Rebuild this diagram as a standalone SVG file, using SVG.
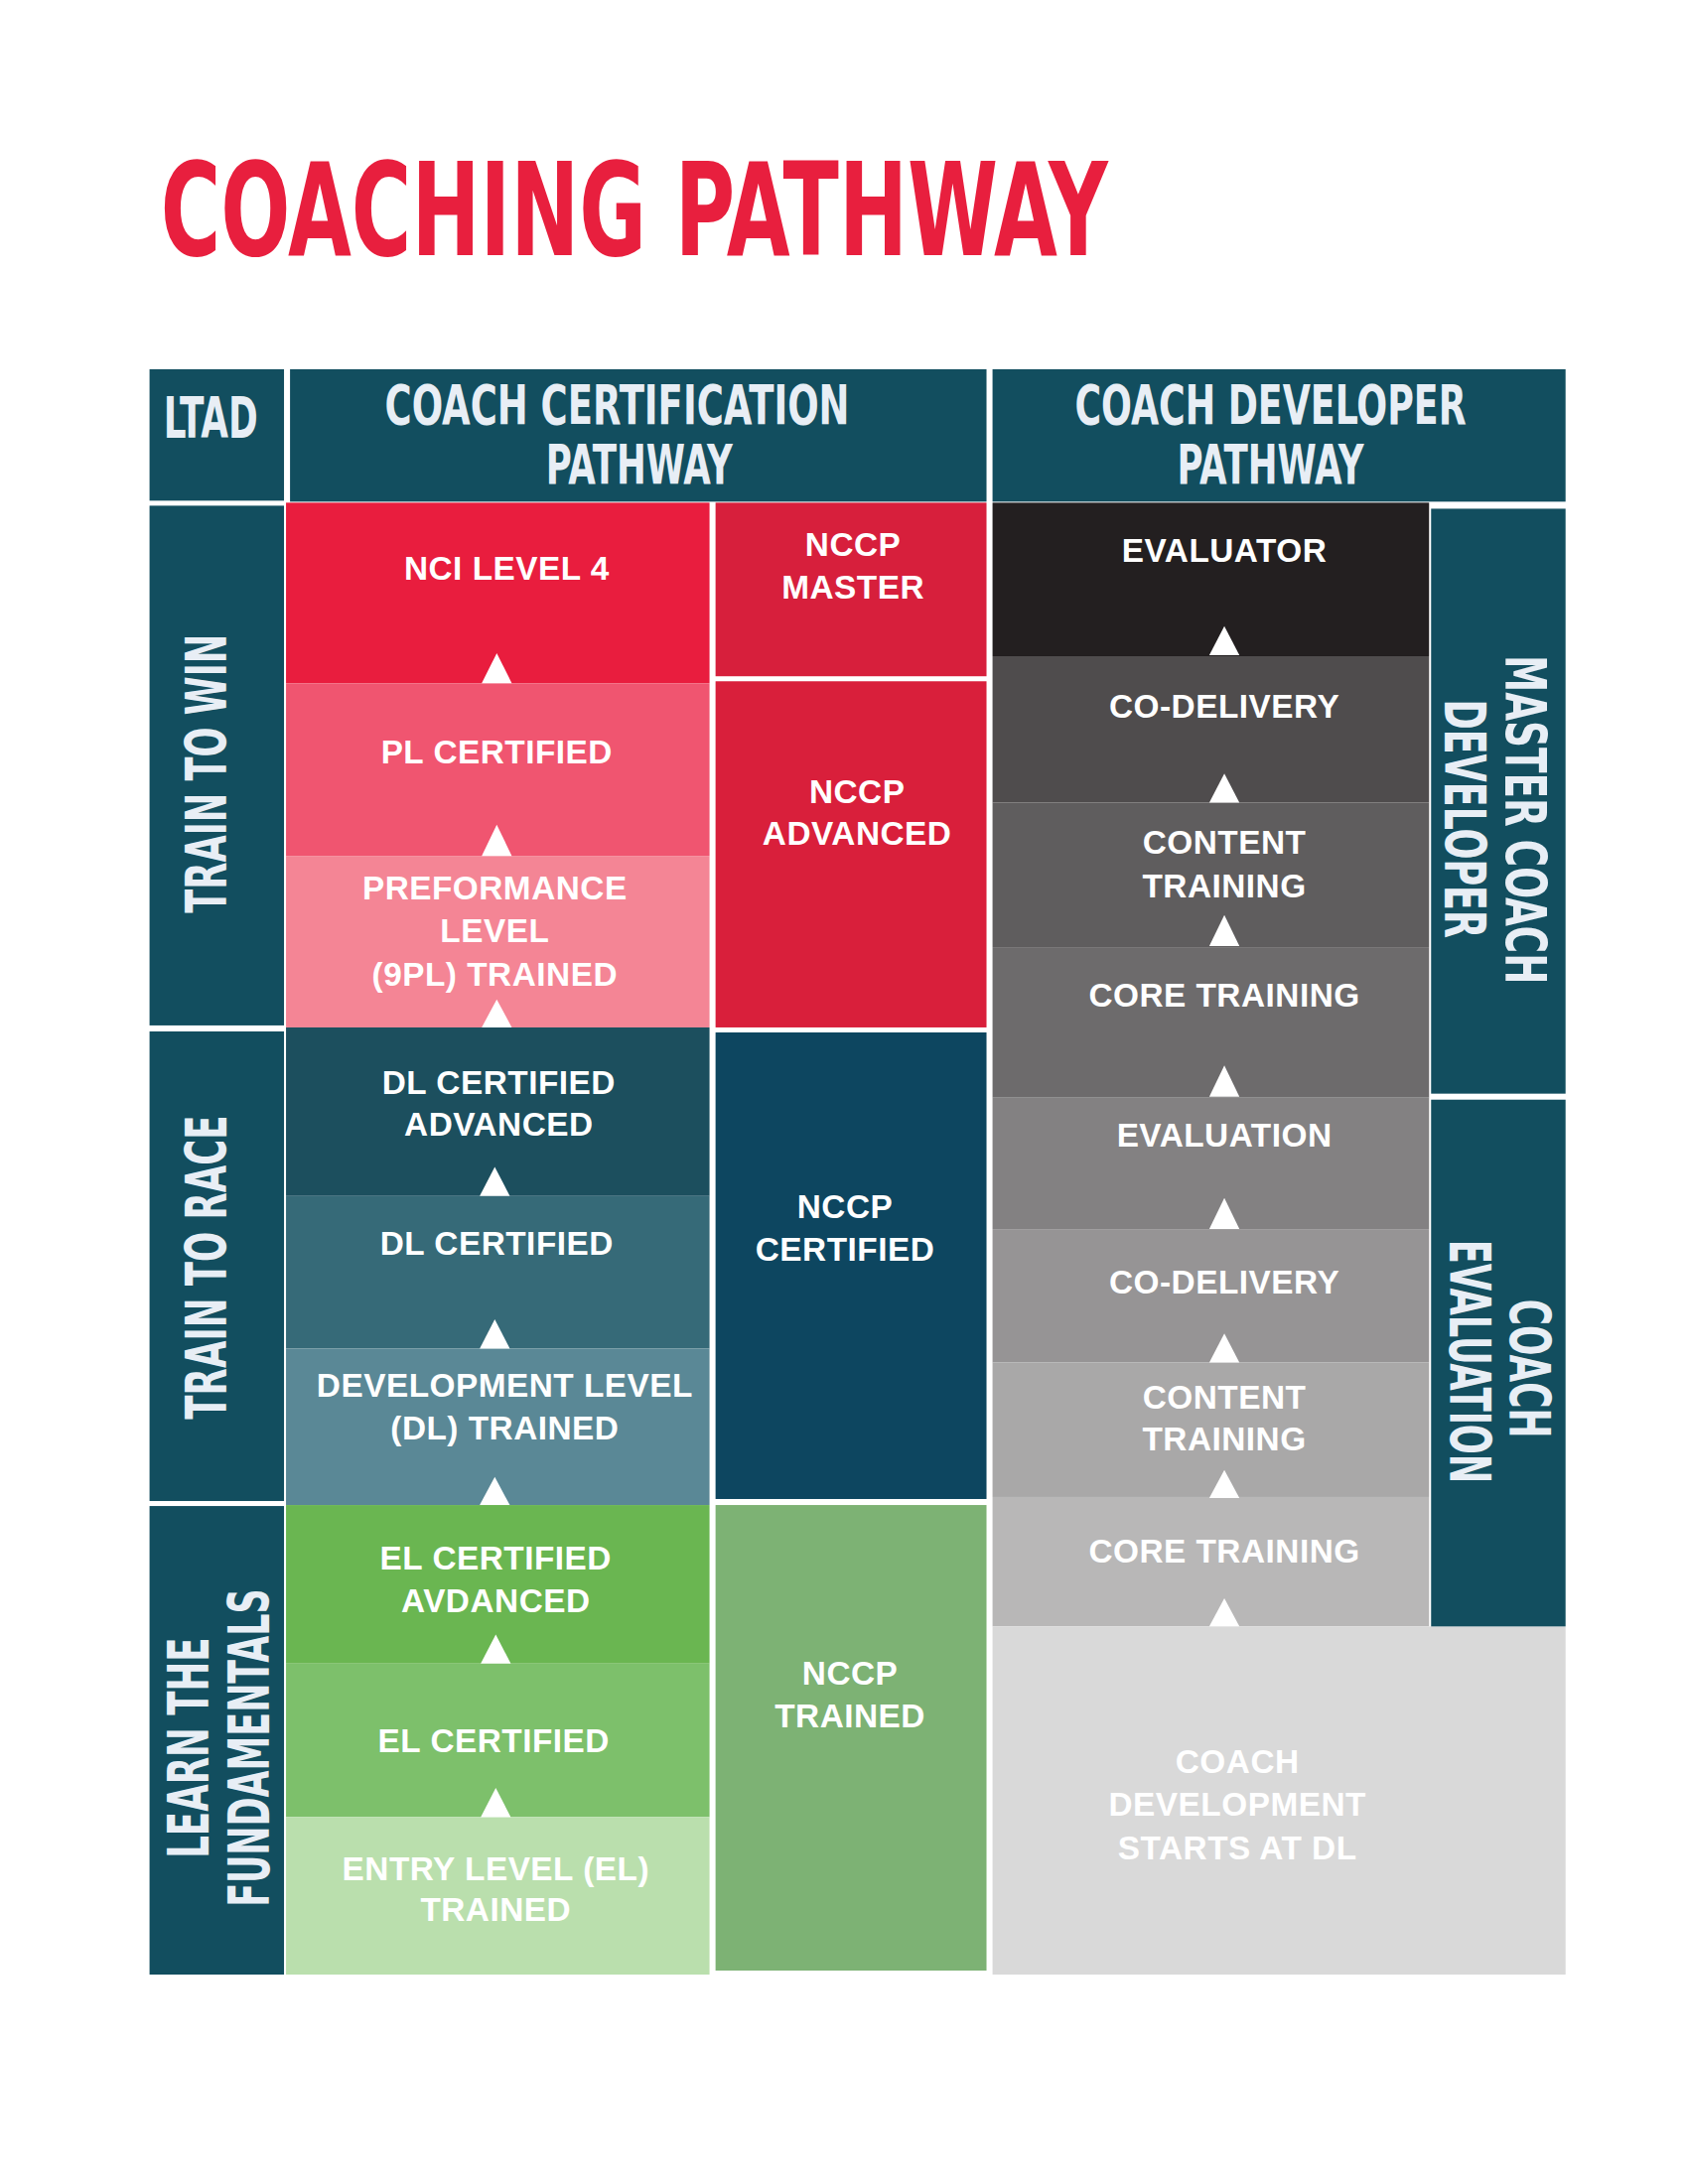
<svg xmlns="http://www.w3.org/2000/svg" width="1700" height="2200" viewBox="0 0 1700 2200">
<style>
.c{font-family:"DejaVu Sans Condensed","DejaVu Sans",sans-serif;font-weight:bold;fill:#e8eef5;text-anchor:middle}
.t{font-family:"Liberation Sans",Arial,sans-serif;font-weight:bold;font-size:33px;fill:#fff;text-anchor:middle;letter-spacing:0.5px}
.a{fill:#fff}
</style>
<rect width="1700" height="2200" fill="#fff"/>
<g transform="scale(1.0107)">
<text x="160" y="254" font-family="DejaVu Sans Condensed,sans-serif" font-weight="bold" font-size="128" fill="#e81f3e" textLength="944" lengthAdjust="spacingAndGlyphs">COACHING PATHWAY</text>
<g id="headers">
<rect x="149" y="368" width="134" height="131" fill="#124e5f"/>
<rect x="289" y="368" width="694" height="132" fill="#124e5f"/>
<rect x="989" y="368" width="571" height="132" fill="#124e5f"/>
<text class="c" x="210" y="436" font-size="56" textLength="94" lengthAdjust="spacingAndGlyphs">LTAD</text>
<text class="c" x="615" y="422" font-size="54" textLength="463" lengthAdjust="spacingAndGlyphs">COACH CERTIFICATION</text>
<text class="c" x="637" y="482" font-size="54" textLength="186" lengthAdjust="spacingAndGlyphs">PATHWAY</text>
<text class="c" x="1266" y="422" font-size="54" textLength="390" lengthAdjust="spacingAndGlyphs">COACH DEVELOPER</text>
<text class="c" x="1266" y="482" font-size="54" textLength="186" lengthAdjust="spacingAndGlyphs">PATHWAY</text>
</g>
<g id="ltad">
<rect x="149" y="504" width="134" height="518" fill="#124e5f"/>
<rect x="149" y="1028" width="134" height="468" fill="#124e5f"/>
<rect x="149" y="1501" width="134" height="467" fill="#124e5f"/>
<text class="c" font-size="56" transform="translate(226,771) rotate(-90)" textLength="278" lengthAdjust="spacingAndGlyphs">TRAIN TO WIN</text>
<text class="c" font-size="56" transform="translate(226,1263) rotate(-90)" textLength="303" lengthAdjust="spacingAndGlyphs">TRAIN TO RACE</text>
<text class="c" font-size="56" transform="translate(208,1742) rotate(-90)" textLength="220" lengthAdjust="spacingAndGlyphs">LEARN THE</text>
<text class="c" font-size="56" transform="translate(268,1742) rotate(-90)" textLength="317" lengthAdjust="spacingAndGlyphs">FUNDAMENTALS</text>
</g>
<g id="certification">
<rect x="285" y="501" width="422" height="180" fill="#e91d3e"/>
<rect x="285" y="681" width="422" height="172" fill="#f05570"/>
<rect x="285" y="853" width="422" height="171" fill="#f48595"/>
<rect x="285" y="1024" width="422" height="168" fill="#1c4f5e"/>
<rect x="285" y="1192" width="422" height="152" fill="#366a78"/>
<rect x="285" y="1344" width="422" height="156" fill="#5a8896"/>
<rect x="285" y="1500" width="422" height="158" fill="#6ab651"/>
<rect x="285" y="1658" width="422" height="153" fill="#7dc06b"/>
<rect x="285" y="1811" width="422" height="157" fill="#badfad"/>
<text class="t" x="505" y="578">NCI LEVEL 4</text>
<text class="t" x="495" y="761">PL CERTIFIED</text>
<text class="t" x="493" y="896">PREFORMANCE</text>
<text class="t" x="493" y="939">LEVEL</text>
<text class="t" x="493" y="982">(9PL) TRAINED</text>
<text class="t" x="497" y="1090">DL CERTIFIED</text>
<text class="t" x="497" y="1132">ADVANCED</text>
<text class="t" x="495" y="1251">DL CERTIFIED</text>
<text class="t" x="503" y="1392">DEVELOPMENT LEVEL</text>
<text class="t" x="503" y="1435">(DL) TRAINED</text>
<text class="t" x="494" y="1564">EL CERTIFIED</text>
<text class="t" x="494" y="1607">AVDANCED</text>
<text class="t" x="492" y="1746">EL CERTIFIED</text>
<text class="t" x="494" y="1874">ENTRY LEVEL (EL)</text>
<text class="t" x="494" y="1915">TRAINED</text>
</g>
<g id="nccp">
<rect x="713" y="501" width="270" height="173" fill="#d71f3c"/>
<rect x="713" y="679" width="270" height="345" fill="#d91f3b"/>
<rect x="713" y="1029" width="270" height="465" fill="#0d4660"/>
<rect x="713" y="1500" width="270" height="464" fill="#7db274"/>
<text class="t" x="850" y="554">NCCP</text>
<text class="t" x="850" y="597">MASTER</text>
<text class="t" x="854" y="800">NCCP</text>
<text class="t" x="854" y="842">ADVANCED</text>
<text class="t" x="842" y="1214">NCCP</text>
<text class="t" x="842" y="1257">CERTIFIED</text>
<text class="t" x="847" y="1679">NCCP</text>
<text class="t" x="847" y="1722">TRAINED</text>
</g>
<g id="developer">
<rect x="989" y="501" width="435" height="153" fill="#231f20"/>
<rect x="989" y="654" width="435" height="146" fill="#4f4c4d"/>
<rect x="989" y="800" width="435" height="144" fill="#5f5d5e"/>
<rect x="989" y="944" width="435" height="150" fill="#6d6b6c"/>
<rect x="989" y="1094" width="435" height="131" fill="#838182"/>
<rect x="989" y="1225" width="435" height="133" fill="#969495"/>
<rect x="989" y="1358" width="435" height="134" fill="#a9a8a8"/>
<rect x="989" y="1492" width="435" height="129" fill="#b8b7b7"/>
<rect x="989" y="1621" width="571" height="347" fill="#d9d9d9"/>
<rect x="1426" y="507" width="134" height="583" fill="#124e5f"/>
<rect x="1426" y="1096" width="134" height="525" fill="#124e5f"/>
<text class="t" x="1220" y="560">EVALUATOR</text>
<text class="t" x="1220" y="715">CO-DELIVERY</text>
<text class="t" x="1220" y="851">CONTENT</text>
<text class="t" x="1220" y="894">TRAINING</text>
<text class="t" x="1220" y="1003">CORE TRAINING</text>
<text class="t" x="1220" y="1143">EVALUATION</text>
<text class="t" x="1220" y="1289">CO-DELIVERY</text>
<text class="t" x="1220" y="1404">CONTENT</text>
<text class="t" x="1220" y="1446">TRAINING</text>
<text class="t" x="1220" y="1557">CORE TRAINING</text>
<text class="t" x="1233" y="1767" fill="#f2f2f2">COACH</text>
<text class="t" x="1233" y="1810" fill="#f2f2f2">DEVELOPMENT</text>
<text class="t" x="1233" y="1853" fill="#f2f2f2">STARTS AT DL</text>
<text class="c" font-size="56" transform="translate(1500,817) rotate(90)" textLength="328" lengthAdjust="spacingAndGlyphs">MASTER COACH</text>
<text class="c" font-size="56" transform="translate(1440,816) rotate(90)" textLength="238" lengthAdjust="spacingAndGlyphs">DEVELOPER</text>
<text class="c" font-size="56" transform="translate(1504,1364) rotate(90)" textLength="138" lengthAdjust="spacingAndGlyphs">COACH</text>
<text class="c" font-size="56" transform="translate(1445,1357) rotate(90)" textLength="243" lengthAdjust="spacingAndGlyphs">EVALUATION</text>
</g>
<g id="connectors">
<polygon class="a" points="495,651 480,681 510,681"/>
<polygon class="a" points="495,822 480,853 510,853"/>
<polygon class="a" points="495,996 480,1024 510,1024"/>
<polygon class="a" points="493,1163 478,1192 508,1192"/>
<polygon class="a" points="493,1315 478,1344 508,1344"/>
<polygon class="a" points="493,1472 478,1500 508,1500"/>
<polygon class="a" points="494,1629 479,1658 509,1658"/>
<polygon class="a" points="494,1782 479,1811 509,1811"/>
<polygon class="a" points="1220,624 1205,653 1235,653"/>
<polygon class="a" points="1220,771 1205,800 1235,800"/>
<polygon class="a" points="1220,912 1205,943 1235,943"/>
<polygon class="a" points="1220,1062 1205,1093 1235,1093"/>
<polygon class="a" points="1220,1194 1205,1225 1235,1225"/>
<polygon class="a" points="1220,1329 1205,1358 1235,1358"/>
<polygon class="a" points="1220,1465 1205,1493 1235,1493"/>
<polygon class="a" points="1220,1593 1205,1621 1235,1621"/>
</g>
</g>
</svg>
